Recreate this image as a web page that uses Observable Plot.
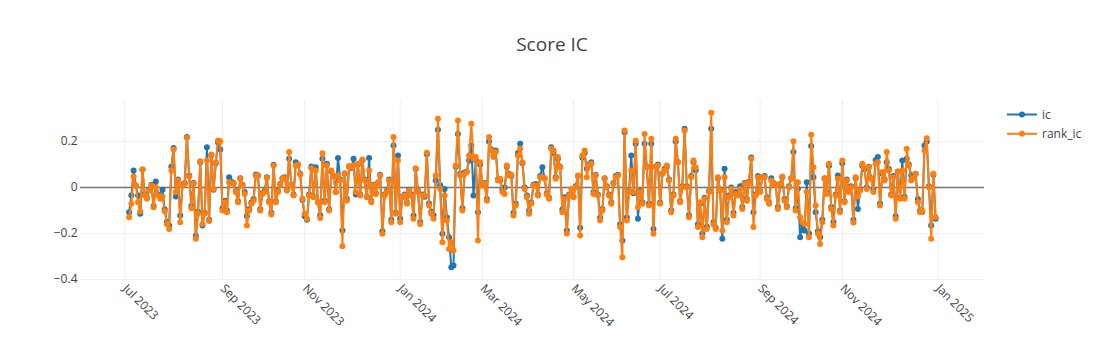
<!DOCTYPE html>
<html>
<head>
<meta charset="utf-8">
<script src="https://cdn.jsdelivr.net/npm/d3@7"></script>
<script src="https://cdn.jsdelivr.net/npm/@observablehq/plot@0.6"></script>
<style>
  html, body { margin: 0; padding: 0; background: #fff; }
  #wrap { position: relative; width: 1104px; height: 360px; overflow: hidden; font-family: "Open Sans", verdana, arial, sans-serif; }
  #title { position: absolute; left: 0; top: 35px; width: 1104px; text-align: center; font-size: 19px; line-height: 19px; color: #444; }
  #legend { position: absolute; left: 0; top: 0; }
  #chart { position: absolute; left: 0; top: 0; }
</style>
</head>
<body>
<div id="wrap">
  <div id="chart"></div>
  <div id="title">Score IC</div>
  <svg id="legend" width="1104" height="360"></svg>
</div>
<script>
// ---- data ----
const seriesNames = ["ic", "rank_ic"];
const seriesColors = ["#1f77b4", "#ff7f0e"];
const firstDay = "2023-07-05";
// exchange holidays (weekday closures) used to build the trading calendar
const holidays = ["2023-09-29","2023-10-02","2023-10-03","2023-10-04","2023-10-05","2023-10-06",
  "2024-01-01","2024-02-09","2024-02-12","2024-02-13","2024-02-14","2024-02-15","2024-02-16",
  "2024-04-04","2024-04-05","2024-05-01","2024-05-02","2024-05-03","2024-06-10",
  "2024-09-16","2024-09-17","2024-10-01","2024-10-02","2024-10-03","2024-10-04","2024-10-07","2025-01-01"];
const xTickLabels = ["Jul 2023","Sep 2023","Nov 2023","Jan 2024","Mar 2024","May 2024","Jul 2024","Sep 2024","Nov 2024","Jan 2025"];
const yTicks = [-0.4, -0.2, 0, 0.2];

const ic = [
-0.107,-0.035,0.074,0.009,-0.035,-0.114,0.078,-0.030,-0.045,-0.010,0.012,-0.080,0.026,-0.030,-0.040,-0.010,-0.095,-0.150,-0.165,0.090,0.172,-0.039,0.035,-0.122,0.012,0.020,0.219,0.052,-0.080,0.020,-0.210,-0.105,0.110,-0.165,-0.110,0.175,-0.140,0.140,-0.010,0.105,0.196,0.165,
-0.090,-0.057,-0.100,0.045,0.025,0.020,-0.015,-0.060,0.040,0.012,-0.020,-0.125,-0.095,-0.065,-0.050,0.057,0.052,-0.095,-0.025,-0.015,0.045,-0.060,-0.110,0.099,-0.060,-0.015,0.015,0.040,0.045,-0.010,0.125,0.012,-0.030,0.110,0.100,0.060,-0.054,-0.125,-0.140,-0.030,0.091,-0.040,0.088,-0.064,-0.120,
0.125,-0.057,0.103,-0.095,0.070,0.050,-0.020,0.128,0.035,-0.187,0.060,-0.050,0.090,0.085,0.125,-0.030,0.100,-0.030,0.118,0.035,-0.040,0.128,-0.060,0.012,-0.025,0.022,0.055,-0.190,-0.030,-0.015,0.035,-0.140,0.183,-0.110,0.139,-0.136,-0.040,-0.030,-0.065,-0.010,-0.030,-0.122,0.080,-0.015,-0.150,
-0.030,-0.040,0.145,-0.070,-0.105,-0.120,0.030,0.251,0.010,-0.201,-0.006,-0.130,-0.216,-0.346,-0.339,0.090,0.233,0.060,-0.090,0.065,0.070,0.117,0.183,-0.035,0.120,-0.107,0.100,0.015,0.020,-0.050,0.200,0.165,0.140,0.161,0.035,0.030,-0.010,0.000,0.090,0.060,0.050,-0.110,-0.070,0.150,0.190,
0.105,0.000,-0.035,-0.100,-0.065,0.012,0.015,-0.030,0.050,0.088,0.040,-0.025,-0.045,0.175,0.150,0.045,0.125,0.090,-0.095,-0.042,-0.187,-0.030,-0.035,-0.040,0.005,0.050,-0.175,0.130,0.150,0.081,0.100,0.110,-0.020,0.055,-0.030,-0.130,-0.095,0.040,0.005,-0.030,-0.065,0.020,0.050,0.055,-0.160,
-0.230,0.240,-0.130,-0.015,0.139,-0.025,0.190,-0.136,-0.015,-0.064,0.190,0.090,-0.070,0.190,-0.180,0.090,0.100,-0.065,0.060,0.080,0.090,0.035,-0.100,-0.030,0.200,0.110,-0.060,0.005,0.255,0.005,-0.120,0.050,0.110,0.075,-0.160,-0.071,-0.200,-0.045,-0.170,-0.015,0.255,-0.151,-0.175,0.040,-0.010,
-0.223,0.081,-0.140,-0.035,0.000,-0.110,-0.020,-0.030,0.005,-0.085,0.020,-0.050,0.025,0.130,-0.107,-0.030,0.050,-0.015,0.045,0.050,-0.045,-0.065,0.040,0.020,0.012,-0.085,0.010,0.045,-0.050,-0.080,0.005,0.040,0.154,-0.090,-0.006,-0.216,-0.160,-0.187,0.023,-0.200,0.180,0.045,-0.107,-0.190,-0.216,
-0.140,0.040,-0.020,0.095,-0.085,-0.150,-0.030,0.052,-0.100,0.105,-0.060,0.035,-0.015,0.005,-0.140,0.040,-0.093,-0.010,0.095,0.080,0.000,0.090,0.040,-0.010,0.120,0.132,-0.070,0.060,0.035,0.110,0.080,-0.030,0.050,-0.125,0.070,-0.045,0.117,-0.040,0.125,0.100,0.052,0.052,0.060,-0.050,-0.100,-0.105,0.183,0.200,0.005,-0.165,0.055,-0.136
];

const rankIc = [
-0.129,-0.071,0.048,0.009,-0.064,-0.104,0.078,-0.035,-0.049,-0.013,0.009,-0.086,0.001,-0.035,-0.049,-0.039,-0.103,-0.158,-0.180,0.074,0.165,-0.020,0.030,-0.151,0.009,0.016,0.216,0.048,-0.090,0.016,-0.223,-0.114,0.114,-0.158,-0.114,0.117,-0.146,0.143,-0.006,0.110,0.204,0.201,
-0.100,-0.064,-0.107,0.023,0.020,0.016,-0.020,-0.064,0.038,0.009,-0.028,-0.165,-0.100,-0.071,-0.057,0.052,0.052,-0.100,-0.028,-0.020,0.041,-0.064,-0.117,0.096,-0.064,-0.020,0.012,0.038,0.041,-0.013,0.154,0.009,-0.035,0.096,0.099,0.057,-0.049,-0.114,-0.136,-0.035,0.084,-0.042,0.074,-0.064,-0.132,
0.149,-0.064,0.096,-0.100,0.074,0.052,-0.020,0.052,0.030,-0.255,0.062,-0.057,0.093,0.088,0.096,-0.020,0.103,-0.035,0.122,0.030,-0.042,0.074,-0.064,0.009,-0.028,0.020,0.052,-0.201,-0.035,-0.020,0.030,-0.151,0.219,-0.114,0.117,-0.151,-0.042,-0.035,-0.071,-0.013,-0.035,-0.136,0.084,-0.020,-0.158,
-0.035,-0.035,0.151,-0.078,-0.114,-0.136,0.052,0.299,-0.006,-0.238,-0.035,-0.143,-0.267,-0.238,-0.274,0.096,0.291,0.052,-0.100,0.059,0.067,0.139,0.277,0.125,0.132,-0.230,0.110,0.009,0.016,-0.057,0.219,0.161,0.132,0.154,0.030,0.038,-0.020,-0.028,0.096,0.052,0.055,-0.122,-0.078,0.139,0.168,
0.110,-0.006,-0.042,-0.114,-0.071,0.009,0.009,-0.035,0.045,0.045,0.038,-0.030,-0.049,0.168,0.161,0.038,0.132,0.088,-0.107,-0.050,-0.201,-0.035,-0.006,-0.042,0.001,0.052,-0.209,0.139,0.161,0.045,0.096,0.103,-0.028,0.052,-0.035,-0.143,-0.100,0.038,0.001,-0.035,-0.071,0.016,0.045,0.052,-0.172,
-0.303,0.248,-0.143,-0.020,0.074,-0.020,0.204,-0.086,-0.020,-0.071,0.233,0.088,-0.078,0.212,-0.201,0.088,0.096,-0.071,0.059,0.074,0.096,0.030,-0.107,-0.035,0.212,0.110,-0.064,0.001,0.248,0.001,-0.129,0.045,0.117,0.088,-0.172,-0.064,-0.216,-0.049,-0.180,-0.020,0.325,-0.160,-0.180,0.045,-0.013,
-0.187,0.045,-0.151,-0.042,-0.006,-0.122,-0.028,-0.035,-0.006,-0.093,0.016,-0.057,0.020,0.125,-0.172,-0.035,0.045,-0.020,0.045,0.045,-0.050,-0.071,0.030,0.016,0.009,-0.093,0.016,0.048,-0.057,-0.086,0.001,0.038,0.201,-0.100,0.023,-0.129,-0.151,-0.158,-0.020,-0.216,0.229,0.088,-0.078,-0.201,-0.245,
-0.151,0.038,-0.028,0.103,-0.093,-0.165,-0.035,0.038,-0.107,0.117,-0.064,0.030,-0.020,0.001,-0.152,0.045,-0.040,-0.013,0.103,0.088,-0.006,0.088,0.038,-0.020,0.103,0.110,-0.078,0.067,0.030,0.154,0.074,-0.035,0.045,-0.136,0.067,-0.049,0.074,-0.049,0.168,0.096,0.030,0.040,0.059,-0.064,-0.107,-0.100,0.161,0.214,0.001,-0.223,0.060,-0.129
];

// ---- trading calendar (x axis skips non-trading days) ----
const parseDay = d3.utcParse("%Y-%m-%d");
const fmtDay = d3.utcFormat("%Y-%m-%d");
const hol = new Set(holidays);
const calendar = d3.utcDay.range(parseDay("2023-07-03"), parseDay("2025-01-03"))
  .filter(d => d.getUTCDay() !== 0 && d.getUTCDay() !== 6 && !hol.has(fmtDay(d)));
const start = calendar.findIndex(d => fmtDay(d) === firstDay);
const rows = [];
ic.forEach((v, i) => rows.push({pos: start + i, date: calendar[start + i], series: "ic", value: v}));
rankIc.forEach((v, i) => rows.push({pos: start + i, date: calendar[start + i], series: "rank_ic", value: v}));
const parseMonth = d3.utcParse("%b %Y");
const xTicks = xTickLabels.map(l => calendar.findIndex(d => +d >= +parseMonth(l)));
const lastPos = start + ic.length - 1;

const fmtY = d => d === 0 ? "0" : d3.format(".1f")(d);

const chart = Plot.plot({
  width: 1104,
  height: 360,
  marginLeft: 80,
  marginRight: 120,
  marginTop: 100,
  marginBottom: 80,
  style: {fontFamily: '"Open Sans", verdana, arial, sans-serif', fontSize: "12px", color: "#444", background: "#fff", overflow: "visible"},
  x: {type: "linear", domain: [start - 21.9, lastPos + 22]},
  y: {domain: [-0.404, 0.378]},
  color: {domain: seriesNames, range: seriesColors},
  marks: [
    Plot.gridX(xTicks, {stroke: "#eee", strokeOpacity: 1, strokeWidth: 1}),
    Plot.gridY(yTicks.filter(t => t !== 0), {stroke: "#eee", strokeOpacity: 1, strokeWidth: 1}),
    Plot.ruleY([0], {stroke: "#444", strokeOpacity: 0.75, strokeWidth: 1.4}),
    Plot.axisY(yTicks, {tickSize: 0, tickPadding: 3, tickFormat: fmtY, fill: "#444", fontSize: 12, label: null}),
    Plot.axisX(xTicks, {tickSize: 0, tickPadding: 6, tickRotate: 45, tickFormat: d => xTickLabels[xTicks.indexOf(d)], fill: "#444", fontSize: 12, label: null}),
    Plot.line(rows.filter(r => r.series === "ic"), {x: "pos", y: "value", stroke: "series", strokeWidth: 2}),
    Plot.dot(rows.filter(r => r.series === "ic"), {x: "pos", y: "value", fill: "series", r: 3}),
    Plot.line(rows.filter(r => r.series === "rank_ic"), {x: "pos", y: "value", stroke: "series", strokeWidth: 2}),
    Plot.dot(rows.filter(r => r.series === "rank_ic"), {x: "pos", y: "value", fill: "series", r: 3})
  ]
});
document.getElementById("chart").appendChild(chart);

// ---- legend (Plotly-style, right side) ----
const leg = d3.select("#legend");
seriesNames.forEach((name, i) => {
  const y = 114.5 + i * 19.3;
  leg.append("line").attr("x1", 1007).attr("x2", 1037).attr("y1", y).attr("y2", y)
    .attr("stroke", seriesColors[i]).attr("stroke-width", 2);
  leg.append("circle").attr("cx", 1022).attr("cy", y).attr("r", 3).attr("fill", seriesColors[i]);
  leg.append("text").attr("x", 1042).attr("y", y + 4.3).text(name)
    .attr("font-family", '"Open Sans", verdana, arial, sans-serif').attr("font-size", 12).attr("fill", "#444");
});
</script>
</body>
</html>
